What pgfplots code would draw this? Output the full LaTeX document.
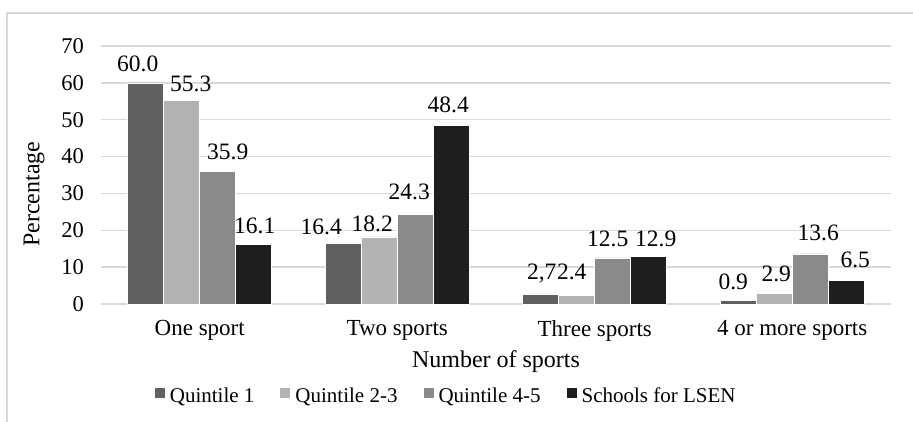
\documentclass[border=0pt]{standalone}
\usepackage{fontspec}
\setmainfont{Liberation Serif}
\usepackage{pgfplots}
\pgfplotsset{compat=1.18}
\definecolor{cQa}{HTML}{606060}
\definecolor{cQb}{HTML}{B3B3B3}
\definecolor{cQc}{HTML}{8A8A8A}
\definecolor{cQd}{HTML}{1E1E1E}
\definecolor{gridc}{HTML}{D9D9D9}
\begin{document}
\begin{tikzpicture}[x=1pt,y=1pt]
\useasboundingbox (0,0) rectangle (913,422);
\draw[gridc, line width=1.2pt] (7,-20) -- (7,409) -- (940,409);
\begin{axis}[
 at={(101pt,118pt)}, anchor=south west,
 scale only axis, width=790pt, height=258pt,
 xmin=-0.5, xmax=3.5, ymin=0, ymax=70,
 ybar=0pt, bar width=36pt,
 xtick={0,1,2,3}, xticklabels={One sport, Two sports, Three sports, 4 or more sports},
 ytick={0,10,...,70},
 ymajorgrids, grid style={gridc, line width=1.5pt},
 axis line style={draw=none}, major tick length=0pt,
 /pgf/number format/assume math mode=true,
 yticklabel style={font=\fontsize{22.5}{26}\selectfont, xshift=-13.5pt},
 xticklabel style={font=\fontsize{23}{27}\selectfont, yshift=-13pt},
 label style={font=\fontsize{24}{28}\selectfont},
 xlabel={Number of sports}, ylabel={Percentage},
 xlabel style={at={(axis description cs:0.5,0)}, anchor=center, yshift=-58pt},
 ylabel style={at={(axis description cs:-0.0848,0.426)}, anchor=center},
 nodes near coords, point meta=explicit symbolic,
 visualization depends on={value \thisrow{dx} \as \dx},
 visualization depends on={value \thisrow{dy} \as \dy},
 nodes near coords style={font=\fontsize{23.5}{27}\selectfont, anchor=base, inner sep=0pt, xshift=\dx pt, yshift=\dy pt},
 legend columns=4,
 legend style={at={(axis description cs:0.437,0)}, yshift=-92pt, anchor=center, draw=none, fill=none,
   font=\fontsize{21}{25}\selectfont, /tikz/every even column/.append style={column sep=24pt},
   /tikz/every odd column/.append style={column sep=3pt}},
 legend image code/.code={\draw[#1, draw=none] (0pt,-2pt) rectangle (10pt,8pt);},
 clip=false,
]
\addplot[fill=cQa, draw=white, line width=0.6pt] table[meta=l] {
x y l dx dy
0 60.0 60.0 -8 11
1 16.4 16.4 -22 9
2 2.7 2,7 1 14.5
3 0.9 0.9 -5 10.7
};
\addlegendentry{Quintile 1}
\addplot[fill=cQb, draw=white, line width=0.6pt] table[meta=l] {
x y l dx dy
0 55.3 55.3 9 8.7
1 18.2 18.2 -7 5.5
2 2.4 2.4 -5 15.7
3 2.9 2.9 2 11.8
};
\addlegendentry{Quintile 2-3}
\addplot[fill=cQc, draw=white, line width=0.6pt] table[meta=l] {
x y l dx dy
0 35.9 35.9 10 12
1 24.3 24.3 -6 14.6
2 12.5 12.5 -5 11.5
3 13.6 13.6 8 13.4
};
\addlegendentry{Quintile 4-5}
\addplot[fill=cQd, draw=white, line width=0.6pt] table[meta=l] {
x y l dx dy
0 16.1 16.1 1 11
1 48.4 48.4 -3 13
2 12.9 12.9 7 10
3 6.5 6.5 9 12.5
};
\addlegendentry{Schools for LSEN}
\end{axis}
\end{tikzpicture}
\end{document}
